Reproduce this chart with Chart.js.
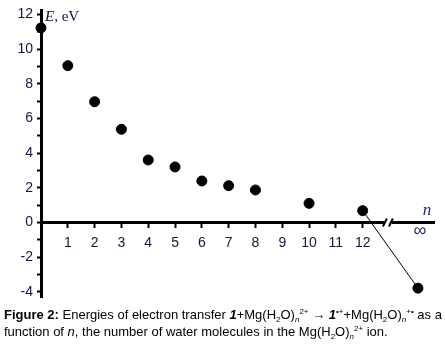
<!DOCTYPE html>
<html><head><meta charset="utf-8">
<script src="https://cdn.jsdelivr.net/npm/chart.js@4"></script>
<style>
html,body{margin:0;padding:0;background:#fff;}
#wrap{position:relative;width:445px;height:344px;overflow:hidden;background:#fff}
#cvwrap{position:absolute;left:0;top:0;width:445px;height:312px}
#cap{position:absolute;left:4px;top:307px;font-family:"Liberation Sans",Arial,sans-serif;font-size:13px;line-height:16.5px;color:#000;white-space:nowrap}
.sb{font-size:8px;position:relative;top:3px;line-height:0}
.sp{font-size:8px;position:relative;top:-5px;line-height:0}
</style></head>
<body>
<div id="wrap">
  <div id="cvwrap"><canvas id="cv" width="445" height="312"></canvas></div>
  <div id="cap"><b>Figure 2:</b> Energies of electron transfer <b><i>1</i></b>+Mg(H<span class="sb">2</span>O)<span class="sb"><i>n</i></span><span class="sp">2+</span> &rarr; <b><i>1</i></b><span class="sp">&bull;+</span>+Mg(H<span class="sb">2</span>O)<span class="sb"><i>n</i></span><span class="sp">+&bull;</span> as a<br>function of <i>n</i>, the number of water molecules in the Mg(H<span class="sb">2</span>O)<span class="sb"><i>n</i></span><span class="sp">2+</span> ion.</div>
</div>
<script>
// ---- data ----
const nValues = [0, 1, 2, 3, 4, 5, 6, 7, 8, 10, 12];
const energies = [11.22, 9.04, 6.96, 5.37, 3.60, 3.20, 2.39, 2.12, 1.87, 1.10, 0.68];
const infPosition = 14.06;      // where "∞" sits on the broken axis
const infEnergy = -3.79;
const xTickValues = [1, 2, 3, 4, 5, 6, 7, 8, 9, 10, 11, 12];
const yTickValues = [-4, -3, -2, -1, 0, 1, 2, 3, 4, 5, 6, 7, 8, 9, 10, 11, 12];
const yLabelValues = [-4, -2, 0, 2, 4, 6, 8, 10, 12];
const xAxisLabel = 'n';
const xInfLabel = '\u221E';
const yAxisLabelItalic = 'E';
const yAxisLabelRest = ', eV';

const labelColor = '#10183a';

const points = nValues.map((n, i) => ({x: n, y: energies[i]}));
points.push({x: infPosition, y: infEnergy});
const tail = [{x: nValues[nValues.length - 1], y: energies[energies.length - 1]}, {x: infPosition, y: infEnergy}];

const extras = {
  id: 'extras',
  afterDraw(chart) {
    const ctx = chart.ctx;
    const xs = chart.scales.x, ys = chart.scales.y;
    const y0 = ys.getPixelForValue(0);
    ctx.save();
    // axis break marks
    const bx = xs.getPixelForValue(12.94);
    ctx.fillStyle = '#fff';
    ctx.fillRect(bx - 4, y0 - 3, 8, 6);
    ctx.strokeStyle = '#000';
    ctx.lineWidth = 2;
    ctx.beginPath();
    ctx.moveTo(bx - 5, y0 + 4); ctx.lineTo(bx - 1, y0 - 4);
    ctx.moveTo(bx + 1, y0 + 4); ctx.lineTo(bx + 5, y0 - 4);
    ctx.stroke();
    // n label
    ctx.fillStyle = '#1a2a7a';
    ctx.font = 'italic 17px "Liberation Serif", serif';
    ctx.textAlign = 'center';
    ctx.textBaseline = 'alphabetic';
    ctx.fillText(xAxisLabel, xs.getPixelForValue(infPosition) + 9, y0 - 7);
    // infinity label
    ctx.font = '18px "Liberation Sans", sans-serif';
    ctx.textBaseline = 'middle';
    ctx.fillText(xInfLabel, xs.getPixelForValue(infPosition) + 2, y0 + 9);
    // E, eV label
    ctx.fillStyle = labelColor;
    ctx.textAlign = 'left';
    ctx.textBaseline = 'alphabetic';
    const lx = xs.getPixelForValue(0) + 4, ly = ys.getPixelForValue(12) + 7;
    ctx.font = 'italic 15px "Liberation Serif", serif';
    ctx.fillText(yAxisLabelItalic, lx, ly);
    const w = ctx.measureText(yAxisLabelItalic).width;
    ctx.font = '15px "Liberation Serif", serif';
    ctx.fillText(yAxisLabelRest, lx + w, ly);
    ctx.restore();
  }
};

new Chart(document.getElementById('cv'), {
  type: 'scatter',
  data: {
    datasets: [
      {data: tail, showLine: true, borderColor: '#000', borderWidth: 1, pointRadius: 0, clip: false},
      {data: points, backgroundColor: '#000', borderColor: '#000', pointRadius: 5, pointHoverRadius: 5, clip: false}
    ]
  },
  options: {
    responsive: false,
    animation: false,
    events: [],
    layout: {padding: {top: 10, bottom: 15, left: 0, right: 11}},
    plugins: {legend: {display: false}, tooltip: {enabled: false}},
    scales: {
      x: {
        type: 'linear', min: 0, max: 14.66,
        position: {y: 0},
        afterFit(s) { s.height = 0; s.paddingLeft = 0; s.paddingRight = 0; },
        afterBuildTicks(s) { s.ticks = xTickValues.map(v => ({value: v})); },
        border: {display: true, color: '#000', width: 3},
        grid: {display: true, drawOnChartArea: false, drawTicks: true, tickLength: 4, tickWidth: 2, color: '#000'},
        ticks: {color: labelColor, font: {family: '"Liberation Sans", Arial, sans-serif', size: 14}, padding: 8, maxRotation: 0, autoSkip: false,
          callback: v => String(v)}
      },
      y: {
        type: 'linear', min: -4.3, max: 12.25,
        position: 'left',
        afterFit(s) { s.width = 41; s.paddingTop = 0; s.paddingBottom = 0; },
        afterBuildTicks(s) { s.ticks = yTickValues.map(v => ({value: v})); },
        border: {display: true, color: '#000', width: 3},
        grid: {display: true, drawOnChartArea: false, drawTicks: true, tickLength: 4, tickWidth: 2, color: '#000'},
        ticks: {color: labelColor, font: {family: '"Liberation Sans", Arial, sans-serif', size: 14}, padding: 4, autoSkip: false,
          callback: v => yLabelValues.includes(v) ? String(v) : ''}
      }
    }
  },
  plugins: [extras]
});
</script>
</body></html>
